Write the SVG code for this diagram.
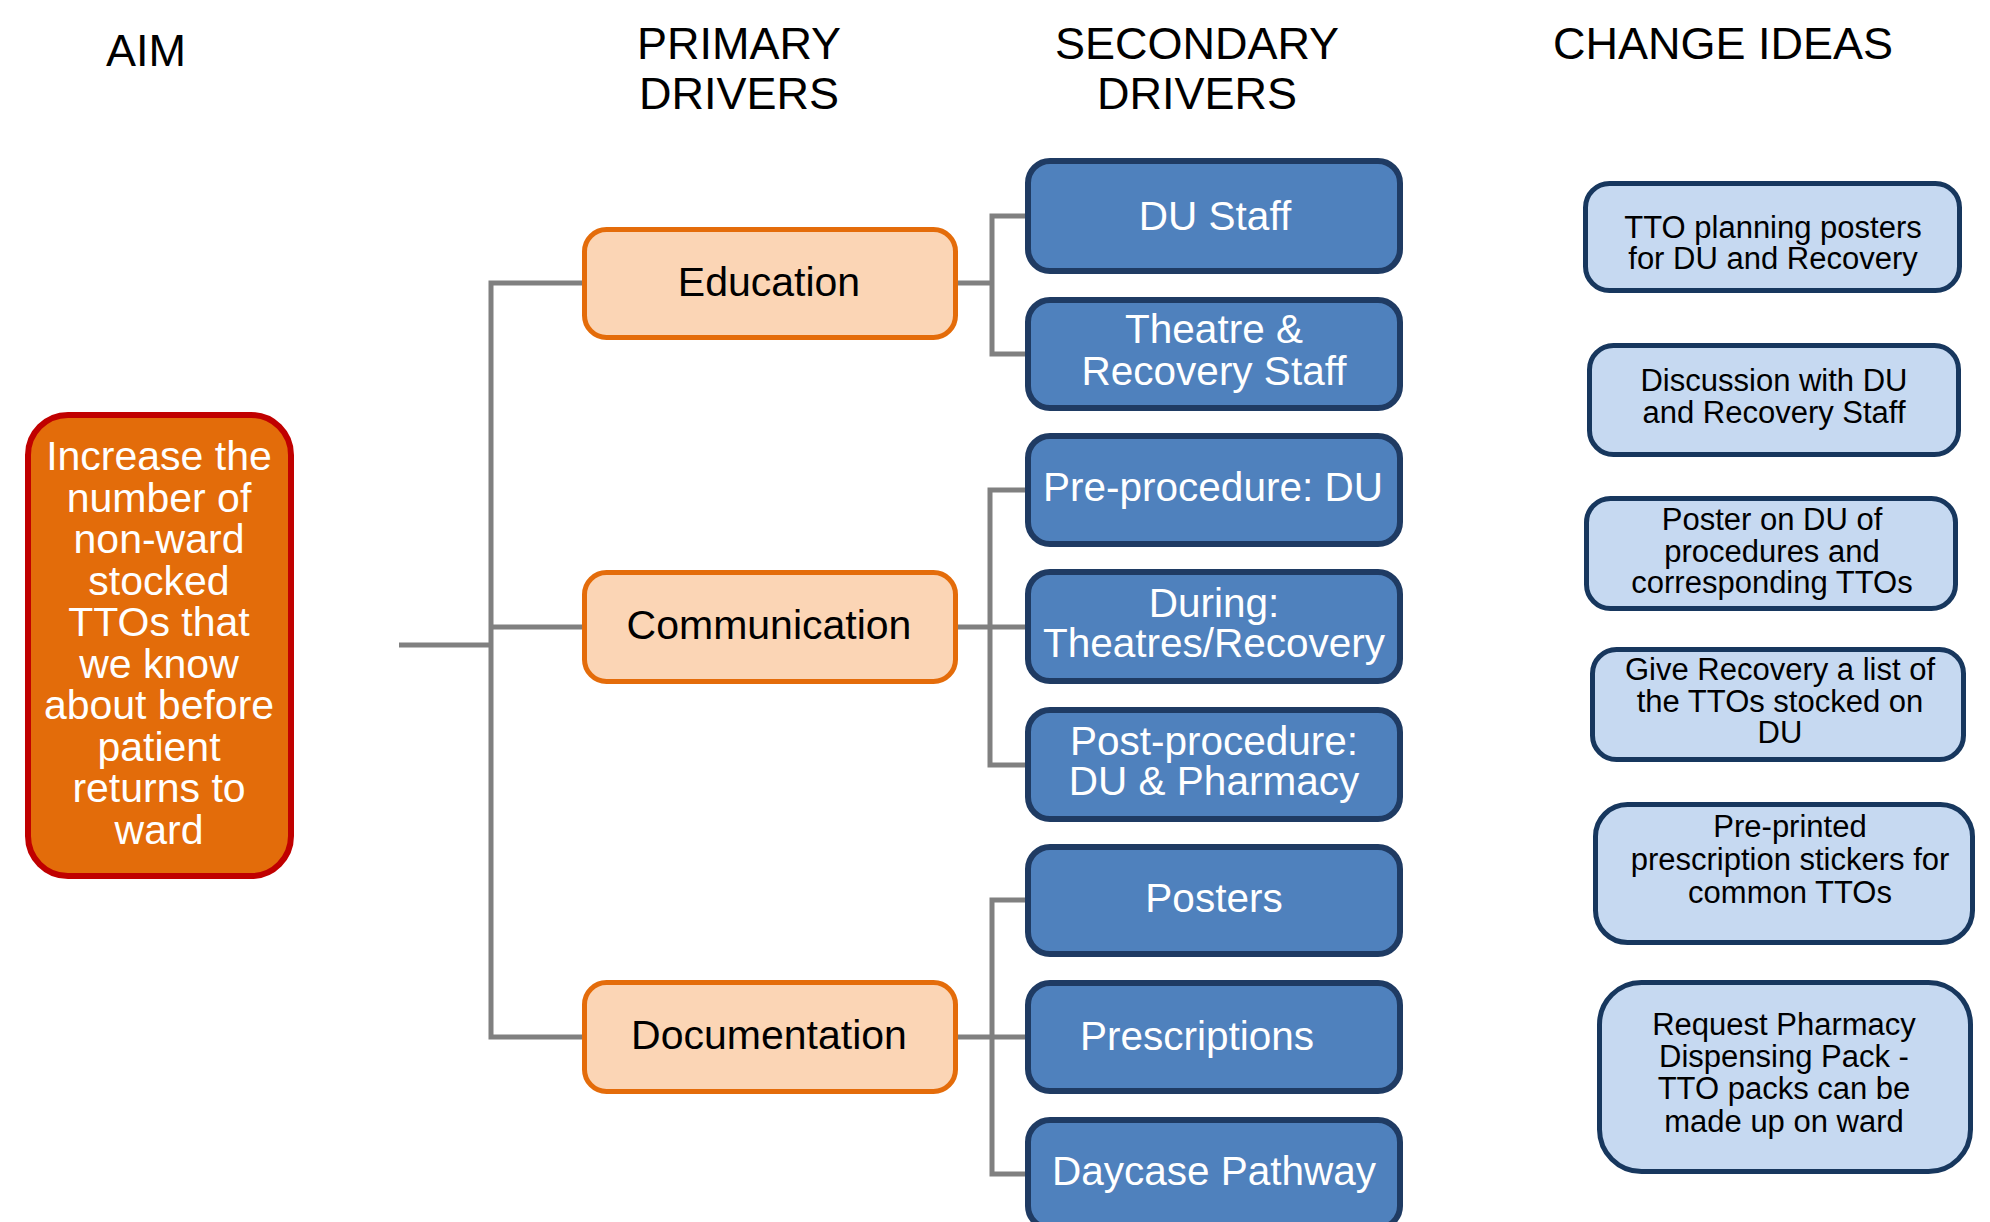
<svg xmlns="http://www.w3.org/2000/svg" width="1990" height="1222" viewBox="0 0 1990 1222">
<style>
.hdr{font-family:"Liberation Sans",Arial,sans-serif;font-size:45px;fill:#000;text-anchor:middle}
.aim{fill:#E36C0A;stroke:#C00000;stroke-width:6}
.aimt{font-family:"Liberation Sans",Arial,sans-serif;font-size:41px;fill:#fff;text-anchor:middle}
.pri{fill:#FBD5B5;stroke:#E46C0A;stroke-width:5}
.prit{font-family:"Liberation Sans",Arial,sans-serif;font-size:41px;fill:#000;text-anchor:middle}
.sec{fill:#4F81BD;stroke:#1F3B63;stroke-width:6}
.sect{font-family:"Liberation Sans",Arial,sans-serif;font-size:40.5px;fill:#fff;text-anchor:middle}
.chg{fill:#C6D9F1;stroke:#17375E;stroke-width:5}
.chgt{font-family:"Liberation Sans",Arial,sans-serif;font-size:31px;fill:#000;text-anchor:middle}
.conn{fill:none;stroke:#808080;stroke-width:5}
</style>
<rect width="1990" height="1222" fill="#fff"/>
<g id="headers">
<text class="hdr" x="146" y="66">AIM</text>
<text class="hdr" x="739" y="59">PRIMARY</text>
<text class="hdr" x="739" y="109">DRIVERS</text>
<text class="hdr" x="1197" y="59">SECONDARY</text>
<text class="hdr" x="1197" y="109">DRIVERS</text>
<text class="hdr" x="1723" y="59">CHANGE IDEAS</text>
</g>
<g id="connectors">
<path class="conn" d="M399 645 H491"/>
<path class="conn" d="M582 283 H491 V1037 H582 M491 627 H582"/>
<path class="conn" d="M958 283 H992 M1025 216 H992 V354 H1025"/>
<path class="conn" d="M958 627 H1025 M1025 490 H990 V765 H1025"/>
<path class="conn" d="M958 1037 H1025 M1025 900 H992 V1174 H1025"/>
</g>
<g id="aim">
<rect class="aim" x="28" y="415" width="263" height="461" rx="40"/>
<text class="aimt" x="159" y="470">Increase the</text>
<text class="aimt" x="159" y="511.5">number of</text>
<text class="aimt" x="159" y="553">non-ward</text>
<text class="aimt" x="159" y="594.5">stocked</text>
<text class="aimt" x="159" y="636">TTOs that</text>
<text class="aimt" x="159" y="677.5">we know</text>
<text class="aimt" x="159" y="719">about before</text>
<text class="aimt" x="159" y="760.5">patient</text>
<text class="aimt" x="159" y="802">returns to</text>
<text class="aimt" x="159" y="843.5">ward</text>
</g>
<g id="education">
<rect class="pri" x="584.5" y="229.5" width="371" height="108" rx="22"/>
<text class="prit" x="769" y="296">Education</text>
</g>
<g id="communication">
<rect class="pri" x="584.5" y="572.5" width="371" height="109" rx="22"/>
<text class="prit" x="769" y="639">Communication</text>
</g>
<g id="documentation">
<rect class="pri" x="584.5" y="982.5" width="371" height="109" rx="22"/>
<text class="prit" x="769" y="1049">Documentation</text>
</g>
<g id="du-staff">
<rect class="sec" x="1028" y="161" width="372" height="110" rx="22"/>
<text class="sect" x="1215" y="230">DU Staff</text>
</g>
<g id="theatre-recovery-staff">
<rect class="sec" x="1028" y="300" width="372" height="108" rx="22"/>
<text class="sect" x="1214" y="343">Theatre &amp;</text>
<text class="sect" x="1214" y="385">Recovery Staff</text>
</g>
<g id="pre-procedure">
<rect class="sec" x="1028" y="436" width="372" height="108" rx="22"/>
<text class="sect" x="1213" y="501">Pre-procedure: DU</text>
</g>
<g id="during">
<rect class="sec" x="1028" y="572" width="372" height="109" rx="22"/>
<text class="sect" x="1214" y="617">During:</text>
<text class="sect" x="1214" y="657">Theatres/Recovery</text>
</g>
<g id="post-procedure">
<rect class="sec" x="1028" y="710" width="372" height="109" rx="22"/>
<text class="sect" x="1214" y="755">Post-procedure:</text>
<text class="sect" x="1214" y="795">DU &amp; Pharmacy</text>
</g>
<g id="posters">
<rect class="sec" x="1028" y="847" width="372" height="107" rx="22"/>
<text class="sect" x="1214" y="912">Posters</text>
</g>
<g id="prescriptions">
<rect class="sec" x="1028" y="983" width="372" height="108" rx="22"/>
<text class="sect" x="1197" y="1050">Prescriptions</text>
</g>
<g id="daycase-pathway">
<rect class="sec" x="1028" y="1120" width="372" height="108" rx="22"/>
<text class="sect" x="1214" y="1185">Daycase Pathway</text>
</g>
<g id="idea-1">
<rect class="chg" x="1585.5" y="183.5" width="374" height="107" rx="24"/>
<text class="chgt" x="1773" y="238">TTO planning posters</text>
<text class="chgt" x="1773" y="269">for DU and Recovery</text>
</g>
<g id="idea-2">
<rect class="chg" x="1589.5" y="345.5" width="369" height="109" rx="24"/>
<text class="chgt" x="1774" y="391">Discussion with DU</text>
<text class="chgt" x="1774" y="423">and Recovery Staff</text>
</g>
<g id="idea-3">
<rect class="chg" x="1586.5" y="498.5" width="369" height="110" rx="24"/>
<text class="chgt" x="1772" y="530">Poster on DU of</text>
<text class="chgt" x="1772" y="562">procedures and</text>
<text class="chgt" x="1772" y="593">corresponding TTOs</text>
</g>
<g id="idea-4">
<rect class="chg" x="1592.5" y="649.5" width="371" height="110" rx="24"/>
<text class="chgt" x="1780" y="680">Give Recovery a list of</text>
<text class="chgt" x="1780" y="712">the TTOs stocked on</text>
<text class="chgt" x="1780" y="743">DU</text>
</g>
<g id="idea-5">
<rect class="chg" x="1595.5" y="804.5" width="377" height="138" rx="32"/>
<text class="chgt" x="1790" y="837">Pre-printed</text>
<text class="chgt" x="1790" y="870">prescription stickers for</text>
<text class="chgt" x="1790" y="903">common TTOs</text>
</g>
<g id="idea-6">
<rect class="chg" x="1599.5" y="982.5" width="371" height="189" rx="42"/>
<text class="chgt" x="1784" y="1035">Request Pharmacy</text>
<text class="chgt" x="1784" y="1067">Dispensing Pack -</text>
<text class="chgt" x="1784" y="1099">TTO packs can be</text>
<text class="chgt" x="1784" y="1132">made up on ward</text>
</g>
</svg>
